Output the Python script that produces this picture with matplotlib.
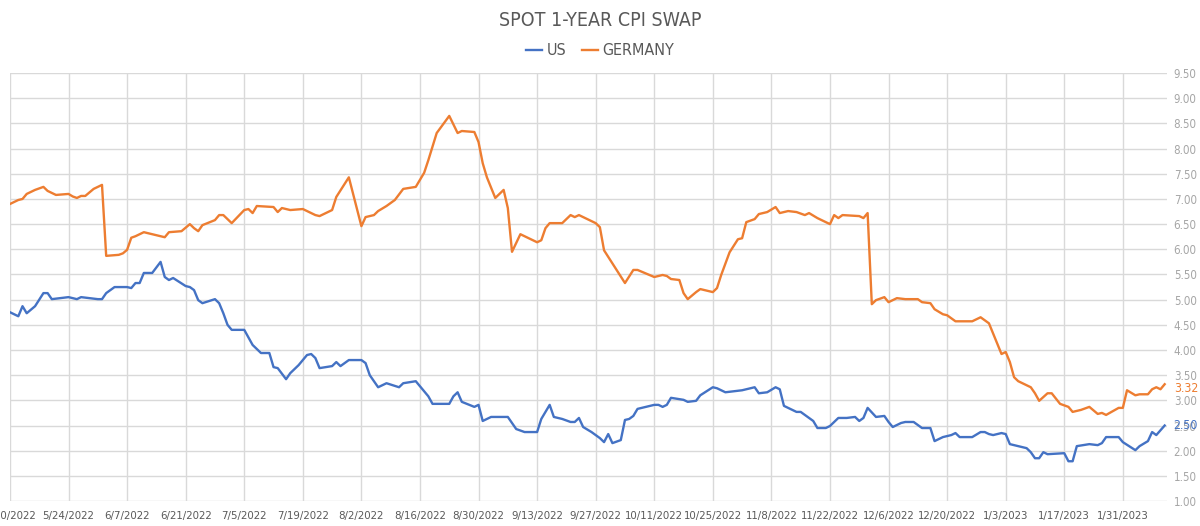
"""
Spot 1-year CPI swap: US vs Germany, May 2022 - Feb 2023.
"""

import matplotlib

matplotlib.use("Agg")
import matplotlib.dates as mdates
import matplotlib.pyplot as plt
import numpy as np
import pandas as pd
from matplotlib import font_manager

TITLE = "SPOT 1-YEAR CPI SWAP"

GERMANY_DATES = [
    "2022-05-10", "2022-05-12", "2022-05-13", "2022-05-14", "2022-05-16", "2022-05-18",
    "2022-05-19", "2022-05-21", "2022-05-24", "2022-05-25", "2022-05-26", "2022-05-27",
    "2022-05-28", "2022-05-30", "2022-05-31", "2022-06-01", "2022-06-02", "2022-06-05",
    "2022-06-06", "2022-06-07", "2022-06-08", "2022-06-09", "2022-06-11", "2022-06-12",
    "2022-06-16", "2022-06-17", "2022-06-20", "2022-06-22", "2022-06-23", "2022-06-24",
    "2022-06-25", "2022-06-28", "2022-06-29", "2022-06-30", "2022-07-02", "2022-07-05",
    "2022-07-06", "2022-07-07", "2022-07-08", "2022-07-12", "2022-07-13", "2022-07-14",
    "2022-07-16", "2022-07-19", "2022-07-20", "2022-07-22", "2022-07-23", "2022-07-26",
    "2022-07-27", "2022-07-30", "2022-08-02", "2022-08-03", "2022-08-05", "2022-08-06",
    "2022-08-08", "2022-08-10", "2022-08-12", "2022-08-15", "2022-08-17", "2022-08-18",
    "2022-08-20", "2022-08-23", "2022-08-25", "2022-08-26", "2022-08-29", "2022-08-30",
    "2022-08-31", "2022-09-01", "2022-09-03", "2022-09-05", "2022-09-06", "2022-09-07",
    "2022-09-09", "2022-09-13", "2022-09-14", "2022-09-15", "2022-09-16", "2022-09-19",
    "2022-09-21", "2022-09-22", "2022-09-23", "2022-09-27", "2022-09-28", "2022-09-29",
    "2022-09-30", "2022-10-04", "2022-10-06", "2022-10-07", "2022-10-11", "2022-10-13",
    "2022-10-14", "2022-10-15", "2022-10-17", "2022-10-18", "2022-10-19", "2022-10-21",
    "2022-10-22", "2022-10-25", "2022-10-26", "2022-10-27", "2022-10-29", "2022-10-31",
    "2022-11-01", "2022-11-02", "2022-11-04", "2022-11-05", "2022-11-07", "2022-11-09",
    "2022-11-10", "2022-11-12", "2022-11-14", "2022-11-16", "2022-11-17", "2022-11-19",
    "2022-11-22", "2022-11-23", "2022-11-24", "2022-11-25", "2022-11-29", "2022-11-30",
    "2022-12-01", "2022-12-02", "2022-12-03", "2022-12-05", "2022-12-06", "2022-12-08",
    "2022-12-10", "2022-12-13", "2022-12-14", "2022-12-16", "2022-12-17", "2022-12-19",
    "2022-12-20", "2022-12-22", "2022-12-26", "2022-12-28", "2022-12-30", "2023-01-02",
    "2023-01-03", "2023-01-04", "2023-01-05", "2023-01-06", "2023-01-09", "2023-01-10",
    "2023-01-11", "2023-01-13", "2023-01-14", "2023-01-16", "2023-01-18", "2023-01-19",
    "2023-01-21", "2023-01-23", "2023-01-25", "2023-01-26", "2023-01-27", "2023-01-30",
    "2023-01-31", "2023-02-01", "2023-02-03", "2023-02-04", "2023-02-06", "2023-02-07",
    "2023-02-08", "2023-02-09", "2023-02-10",
]
GERMANY_VALUES = [
    6.90, 6.98, 7.00, 7.10, 7.18, 7.24,
    7.16, 7.08, 7.10, 7.05, 7.02, 7.06,
    7.06, 7.20, 7.24, 7.28, 5.87, 5.89,
    5.92, 5.99, 6.23, 6.26, 6.34, 6.32,
    6.24, 6.34, 6.36, 6.50, 6.42, 6.36,
    6.48, 6.58, 6.68, 6.68, 6.52, 6.78,
    6.80, 6.72, 6.86, 6.84, 6.74, 6.82,
    6.78, 6.80, 6.76, 6.68, 6.66, 6.78,
    7.04, 7.43, 6.46, 6.64, 6.68, 6.76,
    6.86, 6.98, 7.20, 7.24, 7.52, 7.77,
    8.31, 8.65, 8.31, 8.35, 8.33, 8.13,
    7.71, 7.43, 7.02, 7.18, 6.82, 5.95,
    6.30, 6.14, 6.18, 6.42, 6.52, 6.52,
    6.68, 6.64, 6.68, 6.52, 6.44, 5.98,
    5.85, 5.33, 5.59, 5.59, 5.45, 5.49,
    5.47, 5.41, 5.39, 5.13, 5.01, 5.15,
    5.21, 5.15, 5.23, 5.49, 5.94, 6.20,
    6.22, 6.54, 6.60, 6.70, 6.74, 6.84,
    6.72, 6.76, 6.74, 6.68, 6.72, 6.62,
    6.50, 6.68, 6.62, 6.68, 6.66, 6.62,
    6.72, 4.91, 4.99, 5.05, 4.95, 5.03,
    5.01, 5.01, 4.95, 4.93, 4.81, 4.71,
    4.69, 4.57, 4.57, 4.65, 4.53, 3.92,
    3.96, 3.76, 3.46, 3.38, 3.26, 3.14,
    2.99, 3.14, 3.14, 2.93, 2.87, 2.77,
    2.81, 2.87, 2.73, 2.75, 2.71, 2.85,
    2.85, 3.20, 3.10, 3.12, 3.12, 3.22,
    3.26, 3.22, 3.32,
]

US_DATES = [
    "2022-05-10", "2022-05-12", "2022-05-13", "2022-05-14", "2022-05-16", "2022-05-18",
    "2022-05-19", "2022-05-20", "2022-05-24", "2022-05-26", "2022-05-27", "2022-05-31",
    "2022-06-01", "2022-06-02", "2022-06-04", "2022-06-07", "2022-06-08", "2022-06-09",
    "2022-06-10", "2022-06-11", "2022-06-13", "2022-06-15", "2022-06-16", "2022-06-17",
    "2022-06-18", "2022-06-21", "2022-06-22", "2022-06-23", "2022-06-24", "2022-06-25",
    "2022-06-28", "2022-06-29", "2022-06-30", "2022-07-01", "2022-07-02", "2022-07-05",
    "2022-07-07", "2022-07-09", "2022-07-11", "2022-07-12", "2022-07-13", "2022-07-15",
    "2022-07-16", "2022-07-18", "2022-07-20", "2022-07-21", "2022-07-22", "2022-07-23",
    "2022-07-26", "2022-07-27", "2022-07-28", "2022-07-30", "2022-08-02", "2022-08-03",
    "2022-08-04", "2022-08-06", "2022-08-08", "2022-08-11", "2022-08-12", "2022-08-15",
    "2022-08-17", "2022-08-18", "2022-08-19", "2022-08-23", "2022-08-24", "2022-08-25",
    "2022-08-26", "2022-08-29", "2022-08-30", "2022-08-31", "2022-09-02", "2022-09-06",
    "2022-09-08", "2022-09-10", "2022-09-13", "2022-09-14", "2022-09-16", "2022-09-17",
    "2022-09-19", "2022-09-21", "2022-09-22", "2022-09-23", "2022-09-24", "2022-09-26",
    "2022-09-28", "2022-09-29", "2022-09-30", "2022-10-01", "2022-10-03", "2022-10-04",
    "2022-10-05", "2022-10-06", "2022-10-07", "2022-10-11", "2022-10-12", "2022-10-13",
    "2022-10-14", "2022-10-15", "2022-10-18", "2022-10-19", "2022-10-21", "2022-10-22",
    "2022-10-25", "2022-10-26", "2022-10-28", "2022-11-01", "2022-11-04", "2022-11-05",
    "2022-11-07", "2022-11-09", "2022-11-10", "2022-11-11", "2022-11-12", "2022-11-14",
    "2022-11-15", "2022-11-17", "2022-11-18", "2022-11-19", "2022-11-21", "2022-11-22",
    "2022-11-24", "2022-11-26", "2022-11-28", "2022-11-29", "2022-11-30", "2022-12-01",
    "2022-12-03", "2022-12-05", "2022-12-06", "2022-12-07", "2022-12-09", "2022-12-10",
    "2022-12-12", "2022-12-13", "2022-12-14", "2022-12-16", "2022-12-17", "2022-12-19",
    "2022-12-21", "2022-12-22", "2022-12-23", "2022-12-26", "2022-12-28", "2022-12-29",
    "2022-12-30", "2022-12-31", "2023-01-02", "2023-01-03", "2023-01-04", "2023-01-06",
    "2023-01-08", "2023-01-09", "2023-01-10", "2023-01-11", "2023-01-12", "2023-01-13",
    "2023-01-17", "2023-01-18", "2023-01-19", "2023-01-20", "2023-01-23", "2023-01-25",
    "2023-01-26", "2023-01-27", "2023-01-30", "2023-01-31", "2023-02-03", "2023-02-04",
    "2023-02-06", "2023-02-07", "2023-02-08", "2023-02-10",
]
US_VALUES = [
    4.75, 4.67, 4.87, 4.73, 4.87, 5.13,
    5.13, 5.01, 5.05, 5.01, 5.05, 5.01,
    5.01, 5.13, 5.25, 5.25, 5.23, 5.33,
    5.33, 5.53, 5.53, 5.75, 5.45, 5.39,
    5.43, 5.27, 5.25, 5.19, 4.99, 4.93,
    5.01, 4.93, 4.73, 4.50, 4.40, 4.40,
    4.10, 3.94, 3.94, 3.66, 3.64, 3.42,
    3.54, 3.70, 3.90, 3.92, 3.84, 3.64,
    3.68, 3.76, 3.68, 3.80, 3.80, 3.74,
    3.50, 3.26, 3.34, 3.26, 3.34, 3.38,
    3.18, 3.08, 2.93, 2.93, 3.08, 3.16,
    2.97, 2.87, 2.91, 2.59, 2.67, 2.67,
    2.43, 2.37, 2.37, 2.63, 2.91, 2.67,
    2.63, 2.57, 2.57, 2.65, 2.47, 2.37,
    2.25, 2.17, 2.33, 2.15, 2.21, 2.61,
    2.63, 2.69, 2.83, 2.91, 2.91, 2.87,
    2.91, 3.05, 3.01, 2.97, 2.99, 3.10,
    3.26, 3.24, 3.16, 3.20, 3.26, 3.14,
    3.16, 3.26, 3.22, 2.89, 2.85, 2.77,
    2.77, 2.65, 2.59, 2.45, 2.45, 2.49,
    2.65, 2.65, 2.67, 2.59, 2.65, 2.85,
    2.67, 2.69, 2.57, 2.47, 2.55, 2.57,
    2.57, 2.51, 2.45, 2.45, 2.19, 2.27,
    2.31, 2.35, 2.27, 2.27, 2.37, 2.37,
    2.33, 2.31, 2.35, 2.33, 2.13, 2.09,
    2.05, 1.97, 1.85, 1.85, 1.97, 1.93,
    1.95, 1.79, 1.79, 2.09, 2.13, 2.11,
    2.15, 2.27, 2.27, 2.17, 2.01, 2.09,
    2.19, 2.37, 2.31, 2.50,
]

US_COLOR = "#4472C4"
DE_COLOR = "#ED7D31"
GRID_COLOR = "#d9d9d9"


def pick_narrow_font() -> tuple[list[str], str, bool]:
    """Traži uski (condensed/narrow) font; ako ga nema, vraća Lato."""
    for entry in font_manager.fontManager.ttflist:
        name = entry.name
        stretch = str(entry.stretch)
        if ("Narrow" in name or "Condensed" in name) and "Mono" not in name:
            return [name, "DejaVu Sans"], "normal", True
        if stretch in ("condensed", "semi-condensed", "75", "87") and "Mono" not in name and "Serif" not in name:
            return [name, "DejaVu Sans"], stretch, True
    return ["Lato", "DejaVu Sans"], "normal", False


def main() -> None:
    family, stretch, narrow = pick_narrow_font()
    plt.rcParams["font.family"] = family
    plt.rcParams["font.stretch"] = stretch

    x_label_size = 8.2 if narrow else 7.6
    y_label_size = 8.3 if narrow else 8

    de = pd.Series(GERMANY_VALUES, index=pd.to_datetime(GERMANY_DATES))
    us = pd.Series(US_VALUES, index=pd.to_datetime(US_DATES))

    fig = plt.figure(figsize=(12, 5.26), dpi=100)
    ax = fig.add_axes([0.0083, 0.0475, 0.964, 0.8135])

    ax.plot(us.index, us.values, color=US_COLOR, lw=1.7, label="US", solid_joinstyle="round")
    ax.plot(de.index, de.values, color=DE_COLOR, lw=1.7, label="GERMANY", solid_joinstyle="round")

    ax.set_ylim(1.0, 9.5)
    ax.set_xlim(pd.Timestamp("2022-05-10"), pd.Timestamp("2023-02-10") + pd.Timedelta(hours=12))

    ax.set_yticks(np.arange(1.0, 9.51, 0.5))
    ax.yaxis.set_major_formatter(matplotlib.ticker.FormatStrFormatter("%.2f"))
    ax.yaxis.tick_right()
    ax.tick_params(axis="y", length=0, pad=5, labelsize=y_label_size, labelcolor="#a6a6a6")

    ax.set_xticks(pd.date_range("2022-05-10", "2023-01-31", freq="14D"))
    ax.xaxis.set_major_formatter(mdates.DateFormatter("%-m/%-d/%Y"))
    ax.tick_params(axis="x", length=0, pad=7, labelsize=x_label_size, labelcolor="#595959")

    ax.grid(True, color=GRID_COLOR, lw=1.0)
    ax.set_axisbelow(True)
    for spine in ax.spines.values():
        spine.set_visible(False)

    # Zadnje vrijednosti uz desnu osu
    ax.annotate(f"{de.iloc[-1]:.2f}", xy=(1.0, de.iloc[-1]), xycoords=("axes fraction", "data"),
                xytext=(5, -3), textcoords="offset points", ha="left", va="center",
                fontsize=y_label_size + 0.5, color=DE_COLOR)
    ax.annotate(f"{us.iloc[-1]:.2f}", xy=(1.0, us.iloc[-1]), xycoords=("axes fraction", "data"),
                xytext=(5, 0), textcoords="offset points", ha="left", va="center",
                fontsize=y_label_size + 0.5, color=US_COLOR)

    fig.suptitle(TITLE, x=0.5, y=0.98, fontsize=14, color="#595959")
    fig.legend(loc="upper center", bbox_to_anchor=(0.5, 0.945), ncol=2, frameon=False,
               fontsize=11.5, handlelength=1.0, handletextpad=0.3, columnspacing=1.0,
               labelcolor="#595959")

    fig.savefig("out.png", dpi=100)
    plt.close(fig)


if __name__ == "__main__":
    main()
